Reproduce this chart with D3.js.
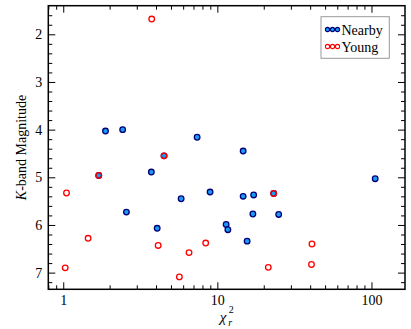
<!DOCTYPE html>
<html>
<head>
<meta charset="utf-8">
<script src="https://cdn.jsdelivr.net/npm/d3@7"></script>
<style>
  body { margin: 0; background: #fff; }
  svg { display: block; }
  text { font-family: "Liberation Serif", "Times New Roman", serif; }
</style>
</head>
<body>
<div id="chart"></div>
<script>
// Data: reduced chi-square vs K-band magnitude
const nearbyChi2 = [1.88, 2.43, 7.39, 14.7, 3.73, 105.7, 2.57, 5.82, 8.97, 14.7,
                    17.2, 17.0, 11.4, 11.7, 4.07, 15.6, 25.0, 1.70, 4.51, 23.2];
const nearbyKmag = [4.03, 4.00, 4.16, 4.45, 4.89, 5.03, 5.73, 5.45, 5.31, 5.40,
                    5.37, 5.77, 5.99, 6.10, 6.07, 6.34, 5.78, 4.96, 4.55, 5.34];

const youngChi2 = [3.75, 1.05, 1.70, 1.45, 1.03, 4.51, 4.13, 6.55, 8.40, 5.67,
                   21.4, 23.2, 41.1, 40.8];
const youngKmag = [1.68, 5.33, 4.96, 6.28, 6.90, 4.55, 6.43, 6.58, 6.38, 7.09,
                   6.89, 5.34, 6.40, 6.83];

const xTickLabels = [1, 10, 100];
const yTickLabels = [2, 3, 4, 5, 6, 7];
const seriesNames = ["Nearby", "Young"];

// Configuration
const config = {
  width: 411,
  height: 329,
  margin: { top: 5.7, right: 6, bottom: 39.7, left: 48.3 },
  nearby: { fill: "#1a9cf0", stroke: "#00007a" },
  young: { fill: "none", stroke: "#ff0000" }
};

const svg = d3.select("#chart").append("svg")
    .attr("width", config.width)
    .attr("height", config.height);

const m = config.margin;
const x = d3.scaleLog().domain([0.8, 165]).range([m.left, config.width - m.right]);
const y = d3.scaleLinear().domain([1.4, 7.35]).range([m.top, config.height - m.bottom]);

// minor tick positions
const xMinor = [];
[0.1, 1, 10].forEach(dec => d3.range(2, 10).forEach(k => {
  const v = k * dec;
  if (v >= x.domain()[0] && v <= x.domain()[1]) xMinor.push(v);
}));
const yMinor = d3.range(1.6, 7.35, 0.2).filter(v => Math.abs(v - Math.round(v)) > 0.05);

function styleAxis(g) {
  g.attr("font-family", null);
  g.select(".domain").remove();
  g.selectAll("line").attr("stroke", "#000").attr("stroke-width", 1);
  g.selectAll("text").attr("font-size", 14).attr("fill", "#000");
}

const bottom = config.height - m.bottom;
const right = config.width - m.right;

// x axes (bottom with labels, top mirrored)
svg.append("g").attr("transform", `translate(0,${bottom})`)
    .call(d3.axisBottom(x).tickValues(xTickLabels).tickFormat(d3.format("d"))
        .tickSizeInner(-7).tickSizeOuter(0).tickPadding(6))
    .call(styleAxis);
svg.append("g").attr("transform", `translate(0,${bottom})`)
    .call(d3.axisBottom(x).tickValues(xMinor).tickFormat("").tickSizeInner(-4).tickSizeOuter(0))
    .call(styleAxis);
svg.append("g").attr("transform", `translate(0,${m.top})`)
    .call(d3.axisTop(x).tickValues(xTickLabels).tickFormat("").tickSizeInner(-7).tickSizeOuter(0))
    .call(styleAxis);
svg.append("g").attr("transform", `translate(0,${m.top})`)
    .call(d3.axisTop(x).tickValues(xMinor).tickFormat("").tickSizeInner(-4).tickSizeOuter(0))
    .call(styleAxis);

// y axes (left with labels, right mirrored)
svg.append("g").attr("transform", `translate(${m.left},0)`)
    .call(d3.axisLeft(y).tickValues(yTickLabels).tickFormat(d3.format("d"))
        .tickSizeInner(-7).tickSizeOuter(0).tickPadding(6))
    .call(styleAxis);
svg.append("g").attr("transform", `translate(${m.left},0)`)
    .call(d3.axisLeft(y).tickValues(yMinor).tickFormat("").tickSizeInner(-4).tickSizeOuter(0))
    .call(styleAxis);
svg.append("g").attr("transform", `translate(${right},0)`)
    .call(d3.axisRight(y).tickValues(yTickLabels).tickFormat("").tickSizeInner(-7).tickSizeOuter(0))
    .call(styleAxis);
svg.append("g").attr("transform", `translate(${right},0)`)
    .call(d3.axisRight(y).tickValues(yMinor).tickFormat("").tickSizeInner(-4).tickSizeOuter(0))
    .call(styleAxis);

// frame
svg.append("rect")
    .attr("x", m.left).attr("y", m.top)
    .attr("width", right - m.left).attr("height", bottom - m.top)
    .attr("fill", "none").attr("stroke", "#000").attr("stroke-width", 1.5);

// points
function drawSeries(xs, ys, style) {
  svg.append("g").selectAll("circle")
      .data(xs.map((v, i) => [v, ys[i]]))
      .join("circle")
      .attr("cx", d => x(d[0]))
      .attr("cy", d => y(d[1]))
      .attr("r", 2.8)
      .attr("fill", style.fill)
      .attr("stroke", style.stroke)
      .attr("stroke-width", 1.3);
}
drawSeries(nearbyChi2, nearbyKmag, config.nearby);
drawSeries(youngChi2, youngKmag, config.young);

// axis labels
const cx = (m.left + right) / 2;
const xl = svg.append("g").attr("font-size", 15);
xl.append("text").attr("x", cx - 7).attr("y", 322).attr("font-style", "italic").text("χ");
xl.append("text").attr("x", cx + 2).attr("y", 313).attr("font-size", 10).text("2");
xl.append("text").attr("x", cx + 1.5).attr("y", 326).attr("font-size", 10).attr("font-style", "italic").text("r");

const yl = svg.append("text")
    .attr("transform", `translate(26,${(m.top + bottom) / 2}) rotate(-90)`)
    .attr("text-anchor", "middle")
    .attr("font-size", 14);
yl.append("tspan").attr("font-style", "italic").text("K");
yl.append("tspan").text("-band Magnitude");

// legend
const legend = svg.append("g");
legend.append("rect")
    .attr("x", 321).attr("y", 16.7).attr("width", 68.3).attr("height", 41.6)
    .attr("fill", "#fff").attr("stroke", "#999").attr("stroke-width", 1);
const legendStyles = [config.nearby, config.young];
seriesNames.forEach((name, i) => {
  const ly = 29.5 + i * 17;
  [327.5, 332.5, 337.5].forEach(lx => {
    legend.append("circle")
        .attr("cx", lx).attr("cy", ly).attr("r", 2.1)
        .attr("fill", legendStyles[i].fill === "none" ? "#fff" : legendStyles[i].fill)
        .attr("stroke", legendStyles[i].stroke).attr("stroke-width", 1.1);
  });
  legend.append("text")
      .attr("x", 341.5).attr("y", ly + 5)
      .attr("font-size", 14)
      .text(name);
});
</script>
</body>
</html>
